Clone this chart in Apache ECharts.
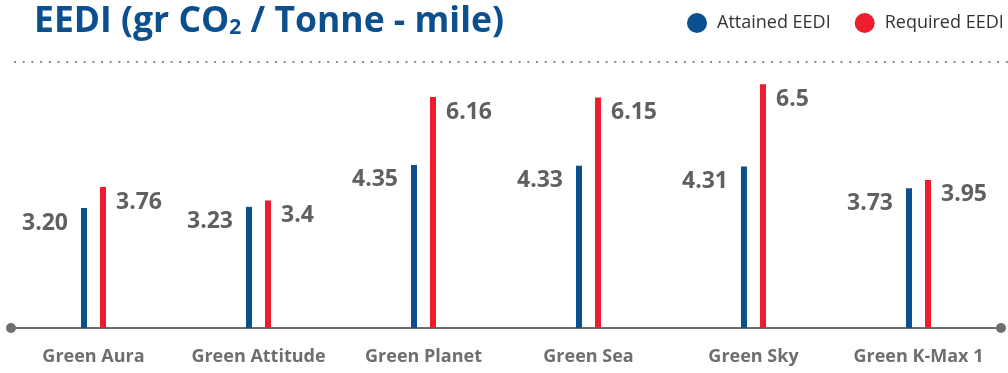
<!DOCTYPE html>
<html>
<head>
<meta charset="utf-8">
<script src="https://cdn.jsdelivr.net/npm/echarts@6/dist/echarts.min.js"></script>
<style>
  html, body { margin: 0; padding: 0; background: #fff; }
  #chart { width: 1008px; height: 373px; }
</style>
</head>
<body>
<div id="chart"></div>
<script>
var ships = ['Green Aura', 'Green Attitude', 'Green Planet', 'Green Sea', 'Green Sky', 'Green K-Max 1'];
var attained = [3.20, 3.23, 4.35, 4.33, 4.31, 3.73];
var required = [3.76, 3.4, 6.16, 6.15, 6.5, 3.95];

var blue = '#0b4f8f';
var red = '#ed1c2e';
var grey = '#6d6e70';

var chart = echarts.init(document.getElementById('chart'));
var option = {
    animation: false,
    title: {
        left: 29,
        top: -5,
        text: '{a|EEDI (gr CO}{b|2}{a| / Tonne - mile)}',
        textStyle: {
            rich: {
                a: { fontFamily: 'Open Sans', fontWeight: 'bold', fontSize: 35.5, color: blue, lineHeight: 44 },
                b: { fontFamily: 'Open Sans', fontWeight: 'bold', fontSize: 21, color: blue, lineHeight: 44, padding: [13, 0, 0, 0] }
            }
        }
    },
    legend: {
        left: 682,
        top: 8,
        width: 500,
        orient: 'horizontal',
        icon: 'circle',
        itemWidth: 20,
        itemHeight: 20,
        itemGap: 24,
        textStyle: { fontFamily: 'Open Sans', fontSize: 18, color: '#333', padding: [0, 0, 0, 5] },
        data: ['Attained EEDI', 'Required EEDI']
    },
    graphic: [{
        type: 'line',
        shape: { x1: 14, y1: 62, x2: 1008, y2: 62 },
        style: { stroke: '#8a8b8d', lineWidth: 2, lineDash: [2, 6.7], lineCap: 'butt' }
    }],
    grid: { left: 11, right: 7, top: 28, bottom: 45 },
    xAxis: {
        type: 'category',
        data: ships,
        axisLine: {
            lineStyle: { color: grey, width: 2 },
            symbol: ['circle', 'circle'],
            symbolSize: [10, 10]
        },
        axisTick: { show: false },
        axisLabel: {
            interval: 0,
            margin: 20,
            fontFamily: 'Open Sans',
            fontWeight: 'bold',
            fontSize: 18,
            color: grey
        }
    },
    yAxis: {
        type: 'value',
        min: 0,
        max: 8,
        show: false,
        splitLine: { show: false }
    },
    series: [{
        name: 'Attained EEDI',
        type: 'bar',
        data: attained,
        barWidth: 6,
        barGap: '217%',
        itemStyle: { color: blue },
        label: {
            show: true,
            position: [-13, 15],
            align: 'right',
            verticalAlign: 'middle',
            fontFamily: 'Open Sans',
            fontWeight: 'bold',
            fontSize: 23,
            color: '#5f6062',
            formatter: function (p) { return p.value.toFixed(2); }
        }
    }, {
        name: 'Required EEDI',
        type: 'bar',
        data: required,
        barWidth: 6,
        itemStyle: { color: red },
        label: {
            show: true,
            position: [16, 15],
            align: 'left',
            verticalAlign: 'middle',
            fontFamily: 'Open Sans',
            fontWeight: 'bold',
            fontSize: 23,
            color: '#5f6062'
        }
    }]
};
chart.setOption(option);
</script>
</body>
</html>
